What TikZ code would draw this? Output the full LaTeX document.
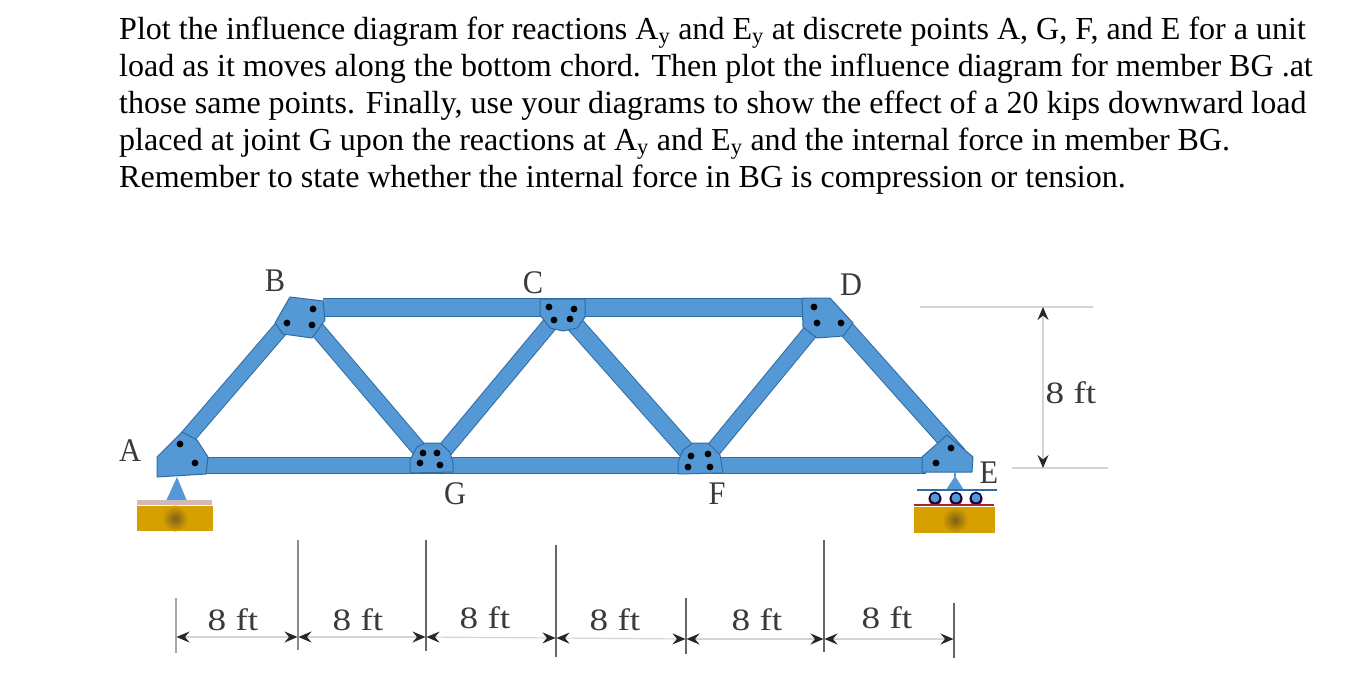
\documentclass[tikz,border=0pt]{standalone}
\usepackage{fontspec}
\setmainfont{Liberation Serif}
\newfontfamily\lab[FakeStretch=0.92]{Liberation Serif}
\newfontfamily\dimf[FakeStretch=1.2]{Liberation Serif}
\usetikzlibrary{arrows.meta}
\definecolor{steel}{HTML}{5598D6}
\definecolor{steeledge}{HTML}{2F6CA3}
\definecolor{gold}{HTML}{D6A000}
\definecolor{golddark}{HTML}{7E6118}
\definecolor{dimgrey}{HTML}{D4D4D4}
\definecolor{barlabel}{HTML}{3A3A3A}
\tikzset{
  plate/.style={fill=steel,draw=steeledge,line width=1pt,line join=round},
  bolt/.style={fill=black,draw=none},
  para/.style={anchor=base west,inner sep=0pt,font=\fontsize{32.05}{35}\selectfont},
  joint/.style={inner sep=0pt,text=barlabel,font=\lab\fontsize{33}{34}\selectfont},
  dimtext/.style={inner sep=0pt,text=barlabel,font=\dimf\fontsize{31}{32}\selectfont},
  witness/.style={draw=dimgrey,line width=1.4pt},
  dimline/.style={draw=dimgrey,line width=1.2pt,
     {Stealth[black!85,length=13pt,width=11pt,inset=4.5pt]}-{Stealth[black!85,length=13pt,width=11pt,inset=4.5pt]}},
  tick/.style={draw=black!60,line width=1.5pt},
}
\newcommand{\sby}{\textsubscript{y}}
\newcommand{\barm}[3]{%
  \draw[steeledge,line width=#3pt] #1 -- #2;
  \draw[steel,line width=\the\numexpr #3-2\relax pt] #1 -- #2;}
\begin{document}
\begin{tikzpicture}[x=1pt,y=-1pt]
\useasboundingbox[fill=white] (0,0) rectangle (1349,693);
% text
\node[para] (l1) at (119,40) {Plot the influence diagram for reactions A\sby{} and E\sby{} at discrete points A, G, F, and E for a unit};
\node[para] (l2) at (119,77) {load as it moves along the bottom chord. Then plot the influence diagram for member BG .at};
\node[para] (l3) at (119,113.5) {those same points. Finally, use your diagrams to show the effect of a 20 kips downward load};
\node[para] (l4) at (119,150.5) {placed at joint G upon the reactions at A\sby{} and E\sby{} and the internal force in member BG.};
\node[para] (l5) at (119,187.5) {Remember to state whether the internal force in BG is compression or tension.};
% chords
\barm{(323,307.5)}{(806,307.5)}{19}
\barm{(204,465)}{(926,465)}{17}
% diagonals
\barm{(185,440)}{(290,318)}{16}
\barm{(316,328)}{(424,455)}{16}
\barm{(445,450)}{(560,312)}{16}
\barm{(571,320)}{(695,460)}{18}
\barm{(709,455)}{(820,320)}{16}
\barm{(843,325)}{(959,455)}{17}
% gusset plates
\draw[plate] (157,457) -- (182,432) -- (197,440) -- (208,457) -- (206,474) -- (157,477) -- cycle;
\draw[plate] (290,297) -- (323,301) -- (325,320) -- (312,338) -- (283,334) -- (275,323) -- cycle;
\draw[plate] (410,473) -- (410,460) -- (417,447) -- (425,443) -- (440,443) -- (450,452) -- (453,463) -- (453,472) -- cycle;
\draw[plate] (540,299) -- (585,299) -- (585,317) -- (577,328) -- (563,331) -- (550,328) -- (540,315) -- cycle;
\draw[plate] (678,474) -- (678,462) -- (683,450) -- (693,443) -- (708,443) -- (720,455) -- (723,473) -- cycle;
\draw[plate] (802,298) -- (830,298) -- (853,323) -- (843,336) -- (817,338) -- (803,327) -- cycle;
\draw[plate] (922,457) -- (947,435) -- (973,457) -- (972,472) -- (922,472) -- cycle;
% bolts
\foreach \p in {(180,444),(195,463),(313,309),(287,323),(312,325),(423,453),(437,453),(420,463),(440,465),(549,307),(574,309),(554,320),(570,319),(691,456),(708,454),(688,467),(710,467),(814,307),(817,323),(841,323),(951,448),(936,463)}
  \fill[bolt] \p circle (3.4pt);
% left support
\fill[steel] (177,477) -- (187,501) -- (166,501) -- cycle;
\fill[red!25!gray!45] (137,500) rectangle (212,505);
\fill[gold] (137,506) rectangle (213,531);
\shade[inner color=golddark,outer color=gold] (175,518.5) circle (13pt);
% right support
\draw[steel,line width=1.5pt] (955,472) -- (955,478);
\fill[steel] (955,476) -- (964,490) -- (946,490) -- cycle;
\draw[steeledge,line width=1.4pt] (917,490) -- (997,490);
\foreach \cx in {935,956,976}{
  \fill[red!70!black] (\cx,499) circle (6.5pt);
  \draw[fill=steel,draw=black!75!blue,line width=1.6pt] (\cx,498) circle (5.5pt);
}
\fill[red!60!black!85] (914,503.5) rectangle (994,505.5);
\fill[gold] (914,507) rectangle (995,533);
\shade[inner color=golddark,outer color=gold] (955,520) circle (13pt);
% joint labels
\node[joint] (A) at (130,451) {A};
\node[joint] (B) at (275,281) {B};
\node[joint] (C) at (533,283) {C};
\node[joint] (D) at (851,285) {D};
\node[joint] (E) at (989,473) {E};
\node[joint] (F) at (717,494) {F};
\node[joint] (G) at (455,494) {G};
% vertical dimension
\coordinate (htop) at (1043,307);
\coordinate (hbot) at (1043,468);
\coordinate (ht1) at (920,307);
\coordinate (ht2) at (1093,307);
\coordinate (hb1) at (1012,468);
\coordinate (hb2) at (1108,468);
\draw[witness] (ht1) -- (ht2);
\draw[witness] (hb1) -- (hb2);
\draw[dimline] (htop) -- (hbot);
\node[dimtext] (h8) at (1071,393) {8 ft};
% horizontal dimensions
\coordinate (t1) at (176,637);
\coordinate (t2) at (298,637);
\coordinate (t3) at (426,637);
\coordinate (t4) at (556,638);
\coordinate (t5) at (686,639);
\coordinate (t6) at (824,639);
\coordinate (t7) at (954,639);
\draw[tick,draw=black!35,line width=2pt] (176,598) -- (176,653);
\draw[tick,draw=black!45,line width=2pt] (298,540) -- (298,650);
\draw[tick] (426,540) -- (426,651);
\draw[tick] (556,545) -- (556,657);
\draw[tick] (686,598) -- (686,654);
\draw[tick,line width=2pt] (824,540) -- (824,652);
\draw[tick] (954,603) -- (954,658);
\foreach \a/\b in {t1/t2,t2/t3,t3/t4,t4/t5,t5/t6,t6/t7}
  \draw[dimline,shorten <=0.5pt,shorten >=0.5pt] (\a) -- (\b);
\node[dimtext] (d1) at (233,620) {8 ft};
\node[dimtext] (d2) at (358,620) {8 ft};
\node[dimtext] (d3) at (485,618) {8 ft};
\node[dimtext] (d4) at (615,620) {8 ft};
\node[dimtext] (d5) at (757,620) {8 ft};
\node[dimtext] (d6) at (887,618) {8 ft};
\end{tikzpicture}
\end{document}
